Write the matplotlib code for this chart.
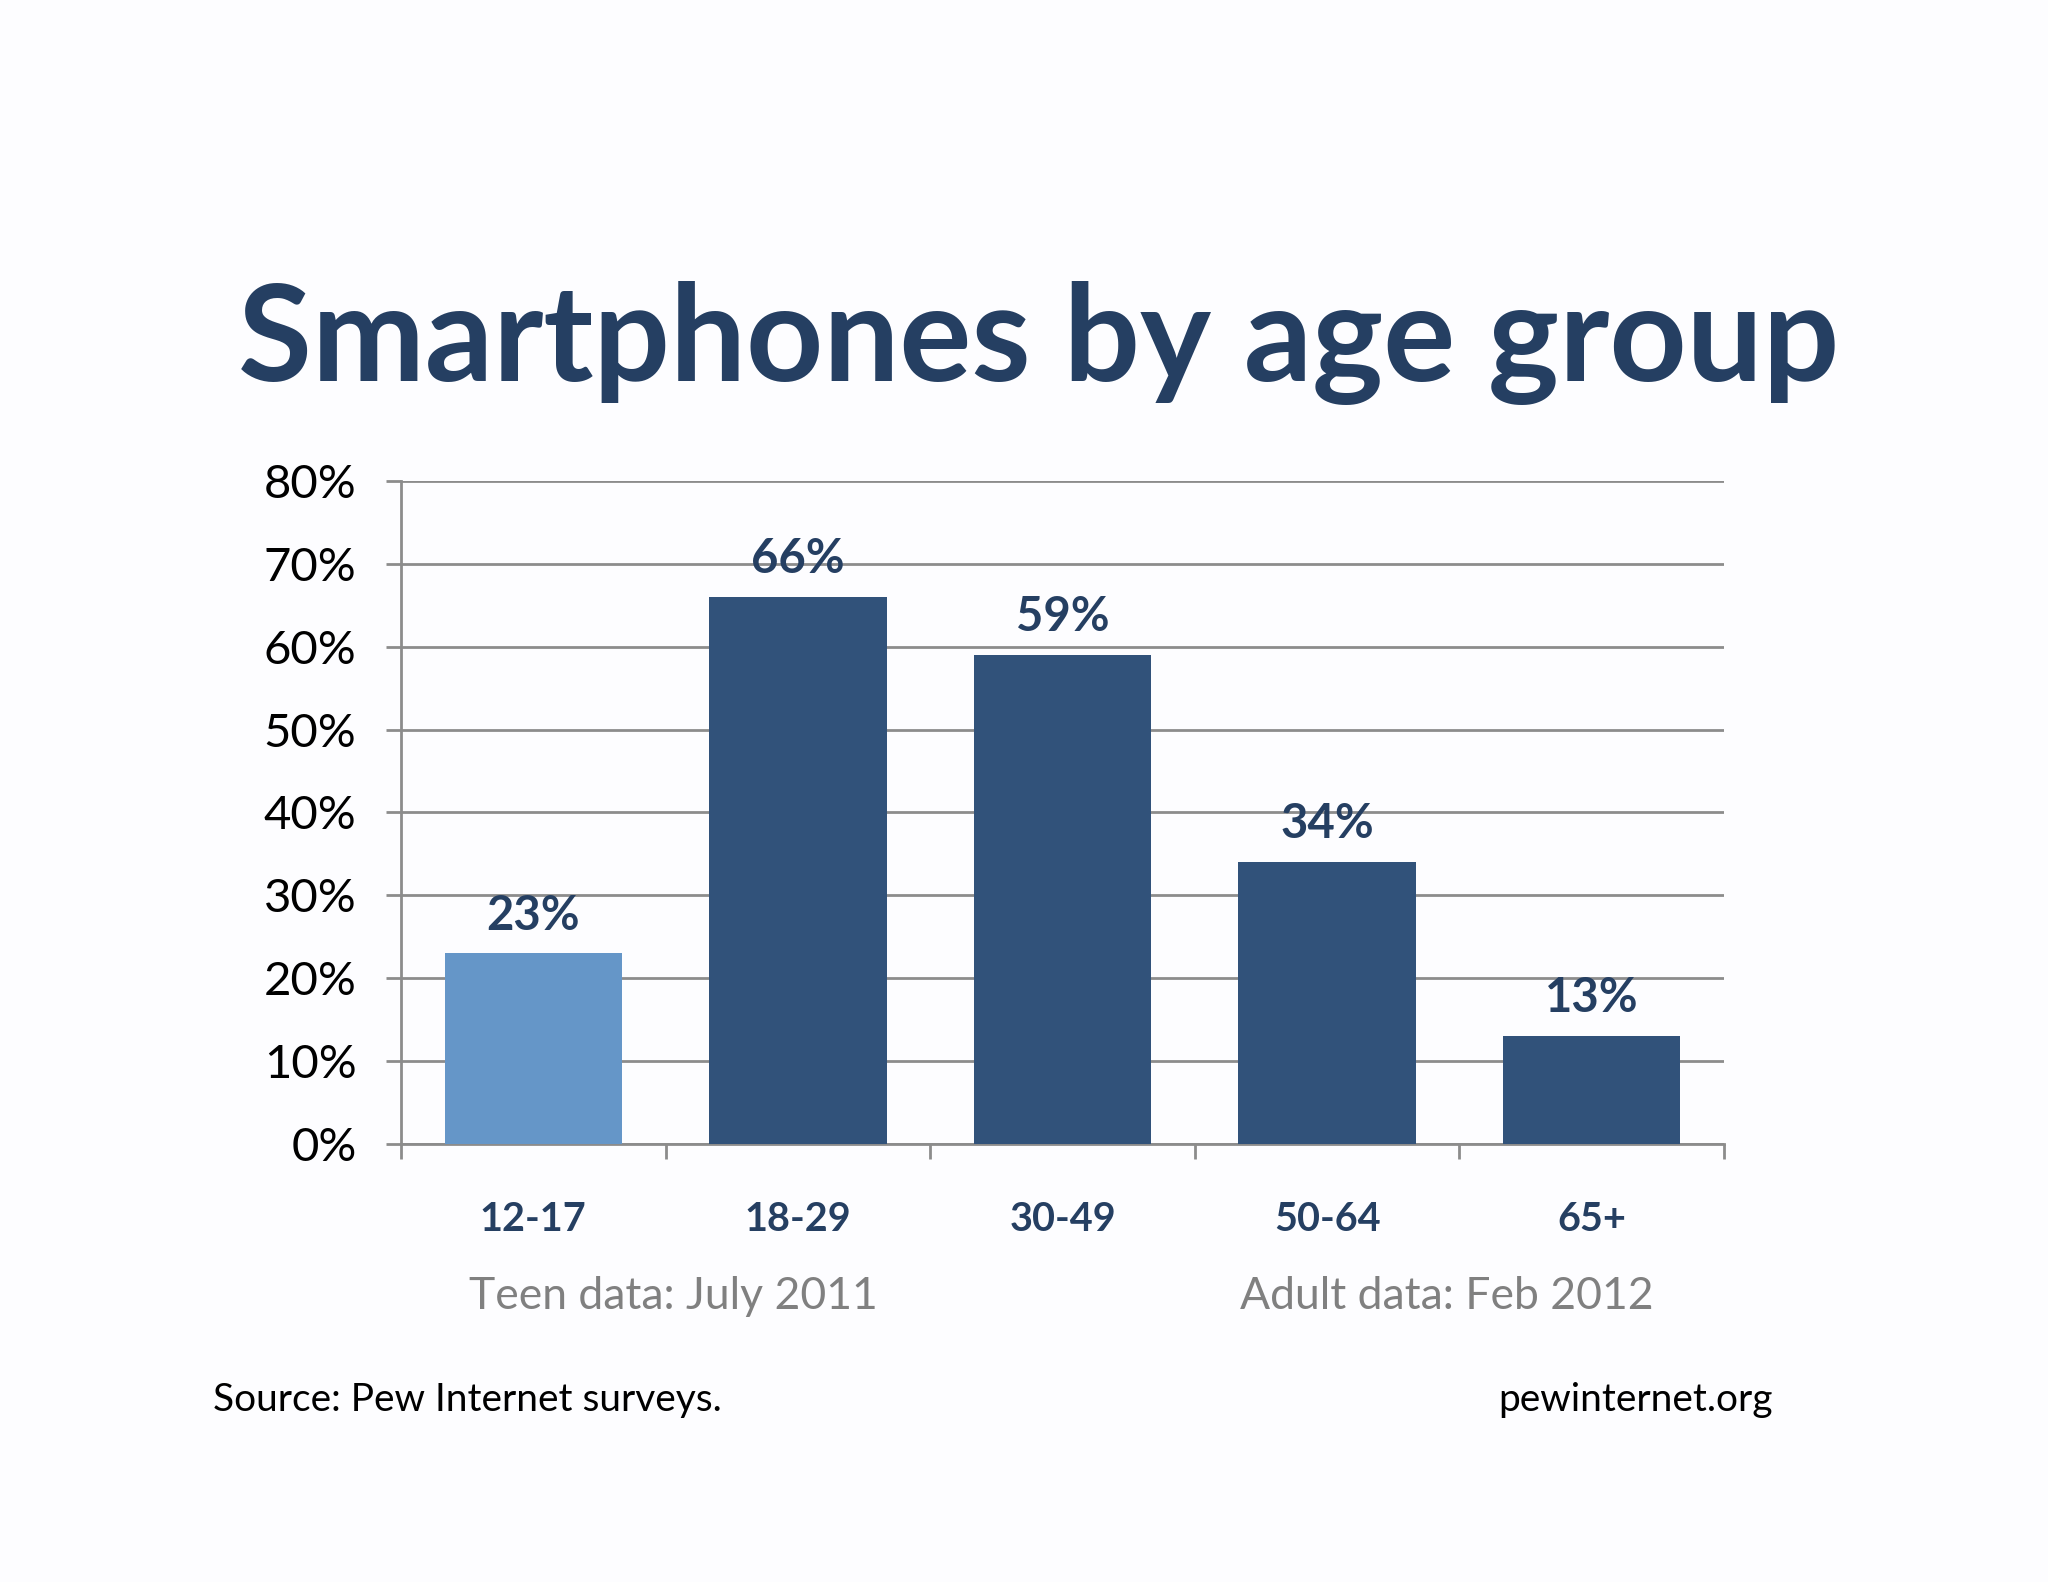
import matplotlib
matplotlib.use("Agg")
import matplotlib.pyplot as plt
from matplotlib.ticker import FuncFormatter

# data
groups = ["12-17", "18-29", "30-49", "50-64", "65+"]
shares = [23, 66, 59, 34, 13]
bar_colors = ["#6596C8", "#31527A", "#31527A", "#31527A", "#31527A"]
y_ticks = [0, 10, 20, 30, 40, 50, 60, 70, 80]

navy = "#253F62"
grid_gray = "#8C8C8C"
plt.rcParams['font.family'] = ['Lato', 'DejaVu Sans']

fig = plt.figure(figsize=(20.48, 15.82), dpi=100, facecolor="#FDFDFF")
ax = fig.add_axes([0.1958, 0.2769, 0.6460, 0.4191])
ax.set_facecolor("#FDFDFF")

x = range(len(groups))
bars = ax.bar(x, shares, width=0.67, color=bar_colors, zorder=3)

for xi, v in zip(x, shares):
    ax.text(xi, v + 1.9, f"{v}%", ha="center", va="bottom", fontsize=34,
            fontweight="bold", color=navy, zorder=4)

ax.set_xlim(-0.5, len(groups) - 0.5)
ax.set_ylim(0, 80)
ax.set_yticks(y_ticks)
ax.yaxis.set_major_formatter(FuncFormatter(lambda v, p: f"{int(v)}%"))
ax.grid(axis="y", color=grid_gray, linewidth=2, zorder=0)
ax.tick_params(axis="y", length=11, width=2, color=grid_gray, labelsize=34,
               pad=21, labelcolor="black")
for lbl in ax.get_yticklabels():
    lbl.set_y(lbl.get_position()[1])

ax.set_xticks(list(x))
ax.set_xticklabels(groups, fontsize=28.5, fontweight="bold", color=navy)
ax.tick_params(axis="x", which="major", length=0, pad=41)
ax.set_xticks([i - 0.5 for i in range(len(groups) + 1)], minor=True)
ax.tick_params(axis="x", which="minor", length=11, width=2, color=grid_gray)

for side in ["top", "right"]:
    ax.spines[side].set_visible(False)
for side in ["left", "bottom"]:
    ax.spines[side].set_color(grid_gray)
    ax.spines[side].set_linewidth(2)

fig.text(0.507, 0.7835, "Smartphones by age group", ha="center", va="center",
         fontsize=97, fontweight="bold", color=navy)
fig.text(0.3286, 0.1805, "Teen data: July 2011", ha="center", va="center",
         fontsize=32, color="#808080")
fig.text(0.7065, 0.1805, "Adult data: Feb 2012", ha="center", va="center",
         fontsize=32, color="#808080")
fig.text(0.104, 0.115, "Source: Pew Internet surveys.", ha="left", va="center",
         fontsize=28, color="black")
fig.text(0.8655, 0.115, "pewinternet.org", ha="right", va="center",
         fontsize=28, color="black")

fig.savefig("out.png", dpi=100, facecolor=fig.get_facecolor())
